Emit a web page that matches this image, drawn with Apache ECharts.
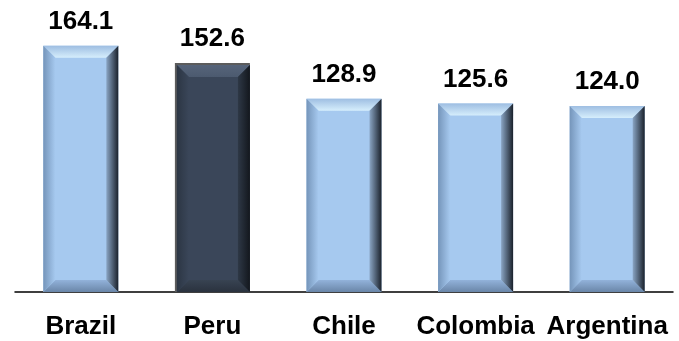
<!DOCTYPE html>
<html>
<head>
<meta charset="utf-8">
<script src="https://cdn.jsdelivr.net/npm/echarts@6/dist/echarts.min.js"></script>
<style>
  html, body { margin: 0; padding: 0; background: #fff; }
  #chart { width: 679px; height: 341px; }
</style>
</head>
<body>
<div id="chart"></div>
<script>
// Index values by country
var categories = ['Brazil', 'Peru', 'Chile', 'Colombia', 'Argentina'];
var values = [164.1, 152.6, 128.9, 125.6, 124.0];
var highlighted = ['Peru'];

// Bevel palettes: light blue for most bars, slate for the highlighted one
var palettes = {
  normal: {
    face: '#A6C9EF',
    top: ['#9EBEE2', '#D6EEFC'],
    left: ['#7595BA', '#A6C9EF'],
    right: ['#8AA5C4', '#1A212B'],
    bottom: ['#92B2DA', '#6A86A8'],
    outline: null
  },
  highlight: {
    face: '#3A4659',
    top: ['#56647A', '#4C5A6F'],
    left: ['#2C3644', '#3A4659'],
    right: ['#2E3846', '#13171D'],
    bottom: ['#384352', '#2A323E'],
    outline: '#5C5C5C'
  }
};

function grad(x0, y0, x1, y1, c) {
  return new echarts.graphic.LinearGradient(x0, y0, x1, y1, [
    { offset: 0, color: c[0] }, { offset: 1, color: c[1] }
  ]);
}

function renderBar(params, api) {
  var idx = api.value(0);
  var val = api.value(1);
  var topPt = api.coord([idx, val]);
  var basePt = api.coord([idx, 0]);
  var w = api.size([1, 0])[0] * 0.57;
  var x = topPt[0] - w / 2;
  var y = topPt[1];
  var h = basePt[1] - topPt[1];
  var b = 12;
  var p = highlighted.indexOf(categories[idx]) >= 0 ? palettes.highlight : palettes.normal;

  var children = [];
  if (p.outline) {
    children.push({ type: 'rect', shape: { x: x, y: y, width: w, height: h }, style: { fill: p.outline } });
  }
  var o = p.outline ? 2 : 0;
  var X = x + o, Y = y + o, W = w - o, H = h - o;
  children.push({ type: 'rect', shape: { x: X, y: Y, width: W, height: H }, style: { fill: p.face } });
  children.push({ type: 'polygon', shape: { points: [[X, Y], [X + W, Y], [X + W - b, Y + b], [X + b, Y + b]] }, style: { fill: grad(0, 0, 0, 1, p.top) } });
  children.push({ type: 'polygon', shape: { points: [[X, Y + H], [X + W, Y + H], [X + W - b, Y + H - b], [X + b, Y + H - b]] }, style: { fill: grad(0, 0, 0, 1, p.bottom) } });
  children.push({ type: 'polygon', shape: { points: [[X, Y], [X + b, Y + b], [X + b, Y + H - b], [X, Y + H]] }, style: { fill: grad(0, 0, 1, 0, p.left) } });
  children.push({ type: 'polygon', shape: { points: [[X + W, Y], [X + W - b, Y + b], [X + W - b, Y + H - b], [X + W, Y + H]] }, style: { fill: grad(0, 0, 1, 0, p.right) } });
  children.push({
    type: 'text',
    style: {
      x: topPt[0], y: y - 11,
      text: val.toFixed(1),
      fill: '#000',
      font: 'bold 26px "Liberation Sans", Arial, sans-serif',
      textAlign: 'center',
      textVerticalAlign: 'bottom'
    }
  });
  return { type: 'group', children: children };
}

var chart = echarts.init(document.getElementById('chart'), null, { renderer: 'canvas' });
chart.setOption({
  animation: false,
  grid: { left: 15, right: 6, top: 22, bottom: 49 },
  xAxis: {
    type: 'category',
    data: categories,
    axisLine: { lineStyle: { color: '#000', width: 1.5 } },
    axisTick: { show: false },
    axisLabel: {
      color: '#000',
      fontFamily: '"Liberation Sans", Arial, sans-serif',
      fontWeight: 'bold',
      fontSize: 26,
      margin: 22,
      interval: 0
    }
  },
  yAxis: {
    type: 'value',
    min: 0,
    max: 180,
    show: false,
    splitLine: { show: false }
  },
  series: [{
    type: 'custom',
    renderItem: renderBar,
    data: values.map(function (v, i) { return [i, v]; }),
    encode: { x: 0, y: 1 },
    clip: false
  }]
});
</script>
</body>
</html>
